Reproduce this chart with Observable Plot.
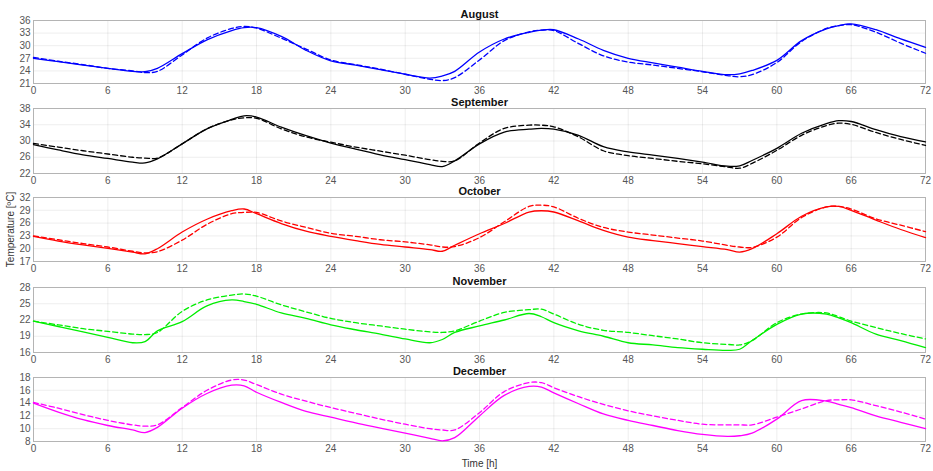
<!DOCTYPE html>
<html><head><meta charset="utf-8">
<script src="https://cdn.jsdelivr.net/npm/d3@7"></script>
<script src="https://cdn.jsdelivr.net/npm/@observablehq/plot@0.6"></script>
<style>
body{margin:0;background:#fff;}
#chart{position:relative;width:933px;height:471px;font-family:"Liberation Sans",Arial,sans-serif;}
#chart svg{position:absolute;left:0;overflow:visible;}
</style></head><body><div id="chart"></div>
<script>
// ---- data ----
const hours = [0,2,4,6,8,9,10,12,14,16,17,18,20,22,24,26,28,30,32,33,34,36,38,40,41,42,44,46,48,50,52,54,56,57,58,60,62,64,65,66,68,70,72];
const months = ["August","September","October","November","December"];
const xTicks = [0,6,12,18,24,30,36,42,48,54,60,66,72];

const augSolid  = [27.0,26.2,25.4,24.6,23.9,23.8,24.6,28.1,31.4,33.6,34.3,34.3,32.2,28.9,26.4,25.4,24.3,23.2,22.3,22.8,23.9,28.5,31.6,33.2,33.7,33.8,31.6,28.9,27.0,25.9,24.9,23.9,23.1,23.3,24.1,26.5,31.2,34.0,34.8,35.2,33.8,31.6,29.6];
const augDashed = [27.2,26.3,25.5,24.6,24.0,23.6,23.9,27.8,31.8,34.1,34.6,34.2,31.8,29.2,26.6,25.5,24.4,23.2,22.0,21.7,22.4,26.6,31.2,33.3,33.7,33.6,30.5,27.6,26.1,25.4,24.6,23.8,22.9,22.6,23.1,26.0,31.0,34.1,34.8,35.0,33.2,30.6,28.2];
const sepSolid  = [29.1,27.8,26.6,25.7,24.8,24.6,25.6,29.3,33.0,35.3,36.2,35.9,33.4,31.3,29.5,28.0,26.6,25.4,24.2,23.7,25.1,29.3,32.2,32.9,33.1,32.9,31.4,28.6,27.3,26.5,25.7,24.8,23.8,23.9,25.2,28.2,31.9,34.3,35.0,34.8,32.8,31.1,29.8];
const sepDashed = [29.4,28.5,27.6,26.8,26.0,25.8,25.8,29.3,33.0,35.2,35.7,35.6,33.0,31.0,29.7,28.5,27.5,26.5,25.4,25.0,25.1,29.5,33.1,33.9,33.9,33.5,31.0,27.6,26.4,25.7,25.0,24.4,23.6,23.3,24.5,27.7,31.4,33.8,34.4,34.1,32.1,30.4,28.9];
const octSolid  = [22.9,21.8,20.9,20.1,19.2,18.8,20.0,23.9,26.9,28.9,29.3,28.2,25.9,24.1,22.9,21.9,21.0,20.4,19.8,19.4,20.8,23.5,25.9,28.6,28.9,28.6,26.5,24.3,22.7,21.9,21.2,20.5,19.8,19.2,20.0,23.5,27.6,29.8,29.9,29.0,26.7,24.5,22.6];
const octDashed = [23.0,22.1,21.2,20.4,19.4,19.0,19.3,22.0,25.7,28.2,28.5,28.5,26.5,25.0,23.6,22.9,22.1,21.6,20.9,20.4,20.5,22.6,26.3,29.9,30.2,29.8,27.1,25.0,23.9,23.2,22.5,21.8,20.8,20.4,20.3,22.7,27.3,29.8,29.9,29.3,27.0,25.5,24.0];
const novSolid  = [21.8,20.8,19.8,18.8,17.8,18.0,20.0,21.7,24.6,25.7,25.4,24.9,23.3,22.3,21.1,20.2,19.4,18.5,17.8,18.4,19.7,20.9,22.0,23.2,22.6,21.5,20.0,19.0,17.8,17.4,16.9,16.6,16.4,16.6,18.2,21.2,23.1,23.1,22.4,21.5,19.4,18.2,16.9];
const novDashed = [21.8,21.1,20.4,19.9,19.4,19.3,19.7,23.6,25.7,26.6,26.8,26.4,24.8,23.5,22.3,21.5,20.9,20.3,19.8,19.7,20.0,21.8,23.4,23.9,24.0,23.1,21.2,20.1,19.7,19.1,18.5,17.8,17.5,17.4,18.2,21.5,23.1,23.3,22.6,21.8,20.6,19.5,18.5];
const decSolid  = [14.0,12.6,11.4,10.5,9.8,9.4,10.2,13.2,15.5,16.8,16.7,15.7,14.1,12.7,11.8,10.9,10.1,9.3,8.5,8.1,8.6,12.0,15.2,16.6,16.5,15.6,13.9,12.3,11.3,10.5,9.7,9.1,8.8,8.9,9.3,11.5,14.4,14.3,13.8,13.3,12.0,11.0,10.0];
const decDashed = [14.1,13.2,12.2,11.3,10.6,10.4,10.6,13.3,16.0,17.6,17.6,16.9,15.4,14.3,13.3,12.4,11.5,10.7,10.0,9.8,9.8,12.5,15.8,17.2,17.2,16.4,15.0,13.8,12.8,12.0,11.3,10.7,10.6,10.6,10.6,11.8,13.1,14.4,14.5,14.5,13.6,12.6,11.5];

const augTicks = [21,24,27,30,33,36];
const sepTicks = [22,26,30,34,38];
const octTicks = [17,20,23,26,29,32];
const novTicks = [16,19,22,25,28];
const decTicks = [8,10,12,14,16,18];
const yLabel = "Temperature [ºC]";
const xLabel = "Time [h]";

// ---- layout / style ----
const panels = [
  {title: months[0], solid: augSolid, dashed: augDashed, ticks: augTicks, color: "#0000ff", top: 20, bottom: 83},
  {title: months[1], solid: sepSolid, dashed: sepDashed, ticks: sepTicks, color: "#000000", top: 108, bottom: 173},
  {title: months[2], solid: octSolid, dashed: octDashed, ticks: octTicks, color: "#ff0000", top: 197, bottom: 261, ylabel: yLabel},
  {title: months[3], solid: novSolid, dashed: novDashed, ticks: novTicks, color: "#00ee00", top: 287, bottom: 352},
  {title: months[4], solid: decSolid, dashed: decDashed, ticks: decTicks, color: "#ff00ff", top: 377, bottom: 441, xlabel: xLabel}
];

const font = '"Liberation Sans", Arial, sans-serif';
const chart = document.getElementById("chart");
panels.forEach((p) => {
  const data = hours.map((h, i) => ({h, solid: p.solid[i], dashed: p.dashed[i]}));
  const mt = 16, mb = p.xlabel ? 30 : 14;
  const marks = [
    Plot.frame({stroke: "#b4b4b4"}),
    Plot.line(data, {x: "h", y: "dashed", stroke: p.color, strokeWidth: 1.3, strokeDasharray: "5,3", curve: "catmull-rom"}),
    Plot.line(data, {x: "h", y: "solid", stroke: p.color, strokeWidth: 1.3, curve: "catmull-rom"}),
    Plot.text([p.title], {text: d => d, frameAnchor: "top", lineAnchor: "middle", dy: -6, fontWeight: "bold", fontSize: 11, fill: "#111"})
  ];
  if (p.ylabel) marks.push(Plot.text([p.ylabel], {text: d => d, frameAnchor: "left", textAnchor: "middle", lineAnchor: "middle", dx: -23, rotate: -90, fontSize: 10, fill: "#333"}));
  if (p.xlabel) marks.push(Plot.text([p.xlabel], {text: d => d, frameAnchor: "bottom", textAnchor: "middle", lineAnchor: "middle", dy: 22, fontSize: 10, fill: "#333"}));
  const svg = Plot.plot({
    width: 933,
    height: mt + (p.bottom - p.top) + mb,
    marginTop: mt, marginBottom: mb, marginLeft: 33, marginRight: 8,
    style: {fontFamily: font, fontSize: "10px", color: "#555", background: "transparent", overflow: "visible"},
    x: {domain: [0, 72], ticks: xTicks, tickSize: 0, tickPadding: 3, grid: true, label: null},
    y: {domain: [p.ticks[0], p.ticks[p.ticks.length - 1]], ticks: p.ticks, tickSize: 0, tickPadding: 3, grid: true, label: null},
    marks
  });
  svg.style.top = (p.top - mt) + "px";
  chart.appendChild(svg);
});
</script>
</body></html>
